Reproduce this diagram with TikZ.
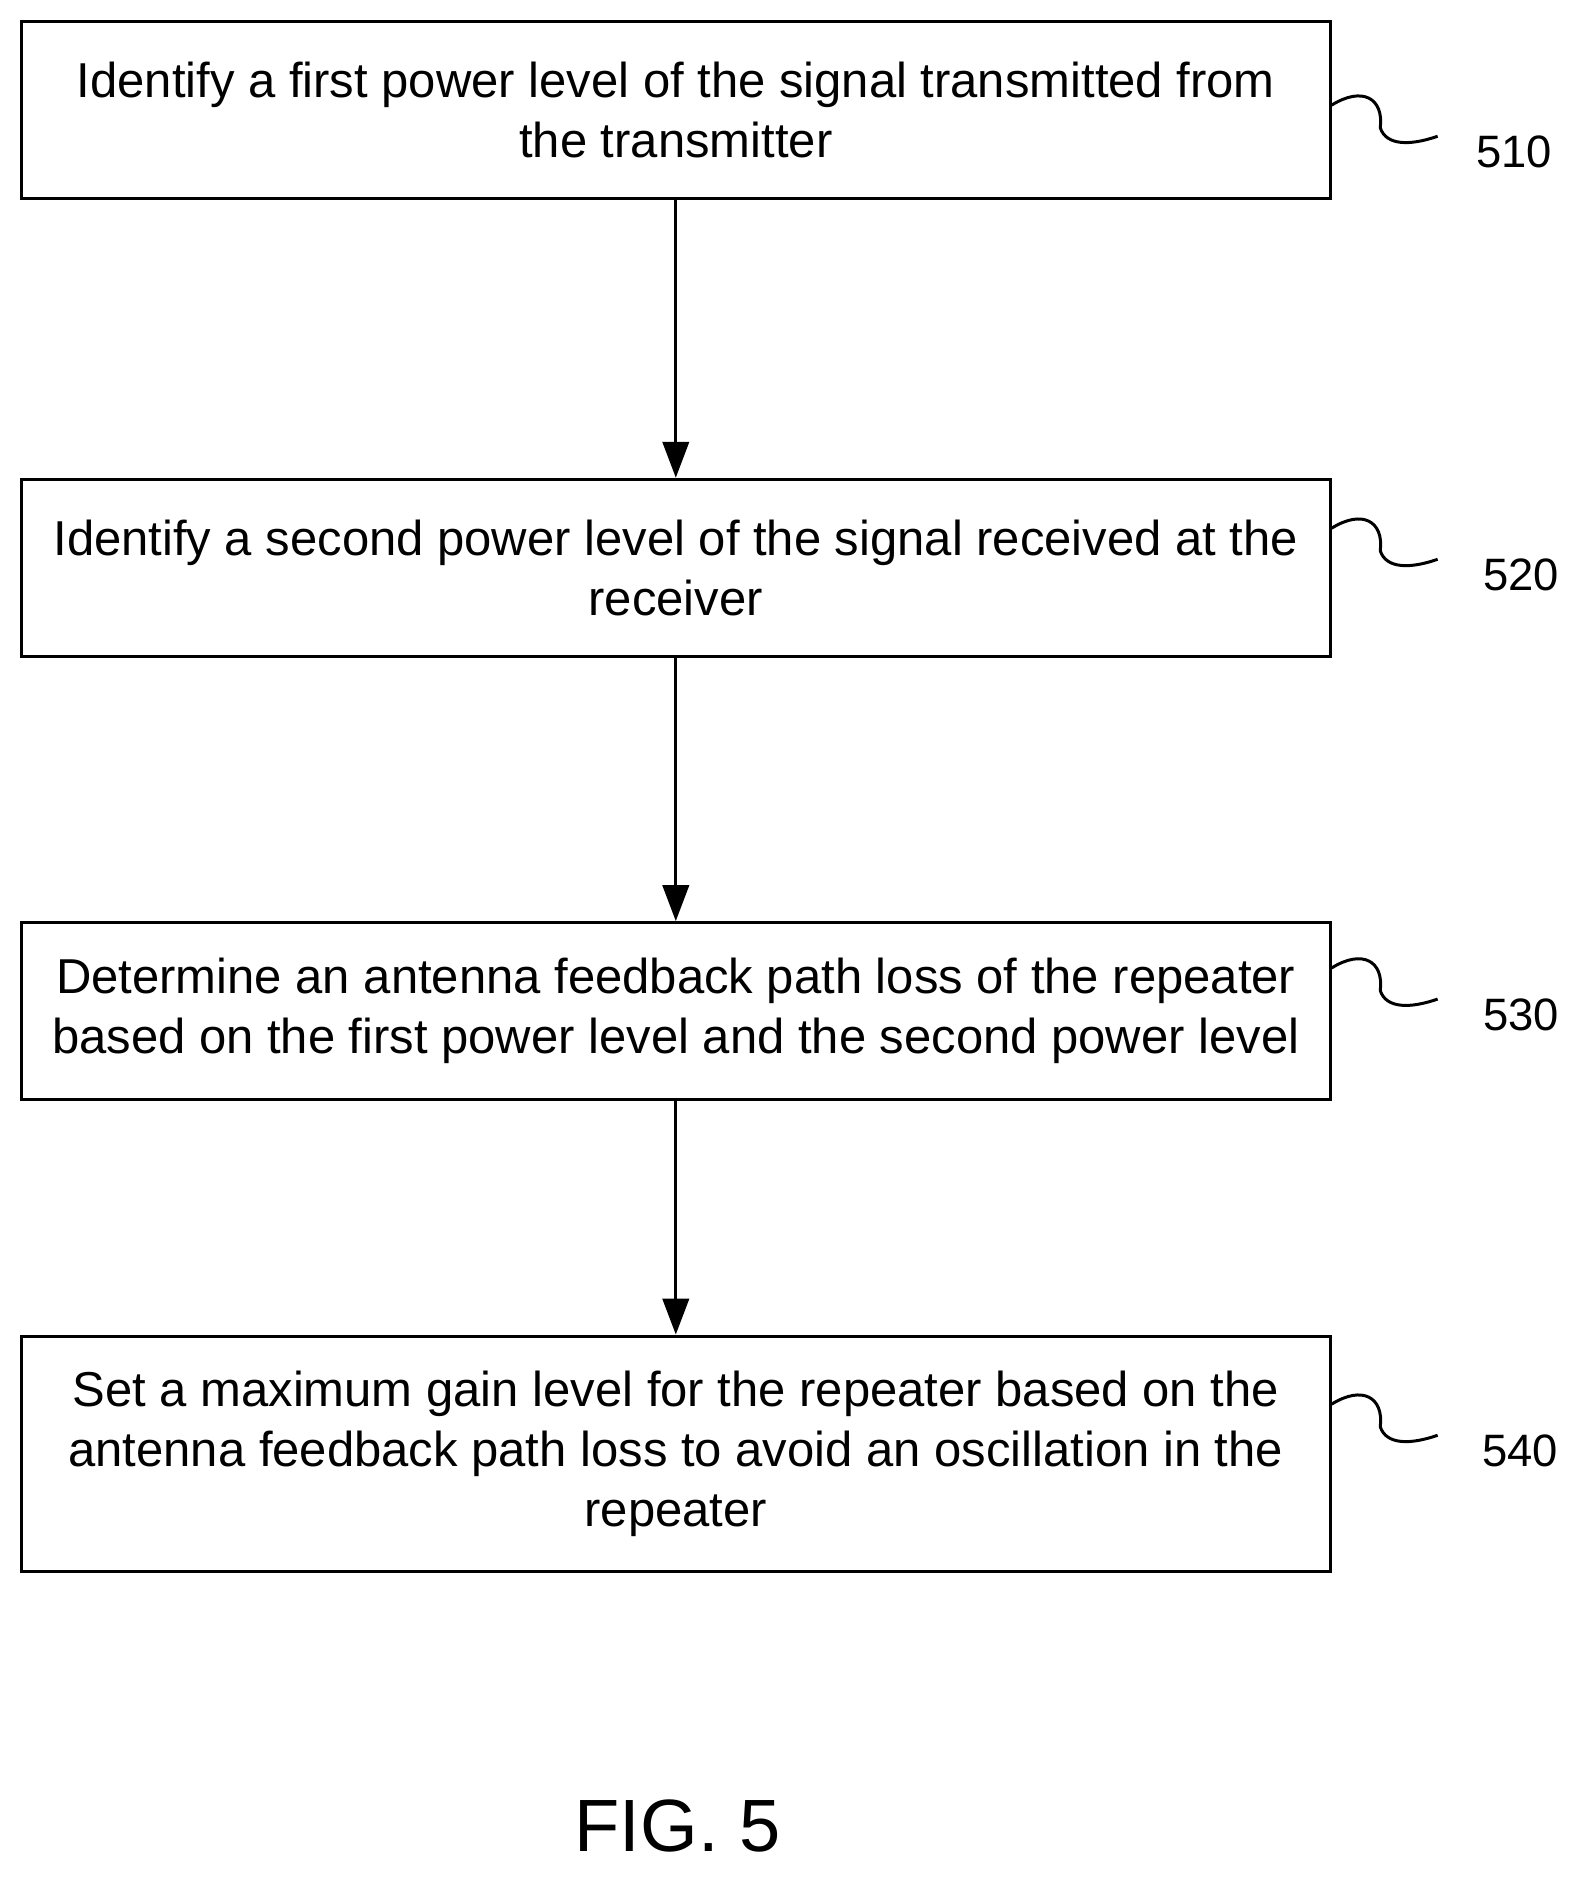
\documentclass[tikz,border=0pt]{standalone}
\usepackage{fontspec}
\setmainfont{Liberation Sans}
\usetikzlibrary{arrows.meta}
\begin{document}
\begin{tikzpicture}[x=1pt,y=-1pt,
 box/.style={draw,line width=2.5pt,minimum width=1095pt,align=center,inner sep=0pt,font=\fontsize{41}{50}\selectfont},
 arr/.style={line width=2.5pt,-{Triangle[length=30pt,width=22pt]}},
 lab/.style={font=\fontsize{38}{40}\selectfont},
 sq/.style={line width=2.5pt}]
\useasboundingbox (0,0) rectangle (1329,1574);
\node[box,minimum height=148pt] (b1) at (565.5,92) {Identify a first power level of the signal transmitted from\\the transmitter};
\node[box,minimum height=148pt] (b2) at (565.5,475) {Identify a second power level of the signal received at the\\receiver};
\node[box,minimum height=148pt] (b3) at (565.5,846) {Determine an antenna feedback path loss of the repeater\\based on the first power level and the second power level};
\node[box,minimum height=197pt] (b4) at (565.5,1216.5) {Set a maximum gain level for the repeater based on the\\antenna feedback path loss to avoid an oscillation in the\\repeater};
\draw[arr] (b1) -- (b2);
\draw[arr] (b2) -- (b3);
\draw[arr] (b3) -- (b4);
\foreach \b/\n/\y/\x in {b1/510/127/1267,b2/520/481/1273,b3/530/849/1273,b4/540/1214/1272}{
 \node[lab] (l\n) at (\x,\y) {\n};
 \coordinate (e\n) at (1203,\y-13);
 \draw[sq] (b1.east |- 0,\y-39) .. controls (1140,\y-55) and (1158,\y-45) .. (1155,\y-20) .. controls (1160,\y-5) and (1180,\y-5) .. (e\n);
}
\node[font=\fontsize{62}{70}\selectfont] (fig) at (567,1528) {FIG. 5};
\end{tikzpicture}
\end{document}
